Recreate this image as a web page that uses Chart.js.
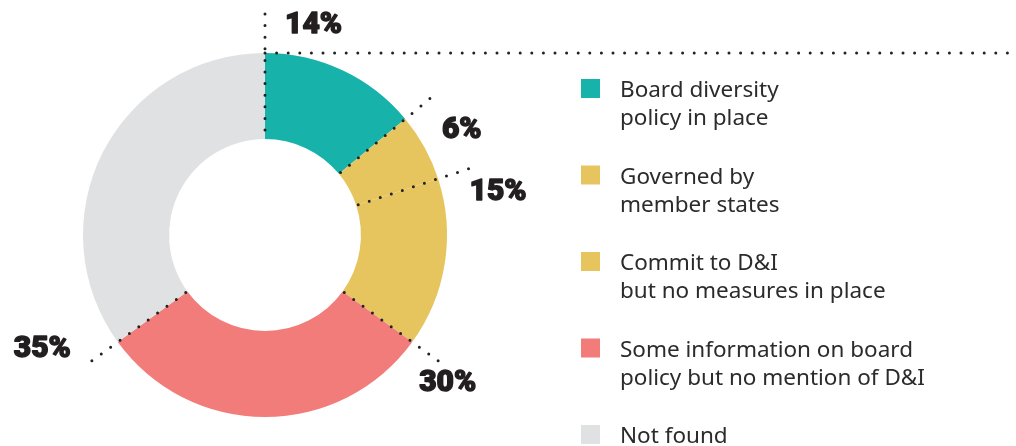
<!DOCTYPE html>
<html>
<head>
<meta charset="utf-8">
<script src="https://cdn.jsdelivr.net/npm/chart.js@4.4.0/dist/chart.umd.min.js"></script>
<style>
  html, body { margin: 0; padding: 0; background: #ffffff; }
  #wrap { width: 1016px; height: 446px; position: relative; }
</style>
</head>
<body>
<div id="wrap"><canvas id="c" width="1016" height="446"></canvas></div>
<script>
// ---- Data ----
const categories = [
  "Board diversity policy in place",
  "Governed by member states",
  "Commit to D&I but no measures in place",
  "Some information on board policy but no mention of D&I",
  "Not found"
];
const legendLines = [
  ["Board diversity", "policy in place"],
  ["Governed by", "member states"],
  ["Commit to D&I", "but no measures in place"],
  ["Some information on board", "policy but no mention of D&I"],
  ["Not found"]
];
const values = [14, 6, 15, 30, 35];
const valueLabels = ["14%", "6%", "15%", "30%", "35%"];
const colors = ["#17b2aa", "#e7c55e", "#e7c55e", "#f27c79", "#e0e1e3"];

// label placement relative to the end of each slice's start leader line
const labelStyle = [
  { dx: 20, dy: 11, align: "left" },
  { dx: 12, dy: 32, align: "left" },
  { dx: 1, dy: 24, align: "left" },
  { dx: -19, dy: 23, align: "left" },
  { dx: -21, dy: -11, align: "right" }
];

const DOT = "#222222";

function dotted(ctx) {
  ctx.strokeStyle = DOT;
  ctx.lineWidth = 3;
  ctx.lineCap = "round";
  ctx.setLineDash([0, 11.6]);
}

const overlay = {
  id: "overlay",
  afterDatasetsDraw(chart) {
    const ctx = chart.ctx;
    const arcs = chart.getDatasetMeta(0).data;
    ctx.save();
    arcs.forEach((arc, i) => {
      const a = arc.startAngle;
      const cx = arc.x, cy = arc.y;
      const ext = i === 0 ? arc.outerRadius + 39 : arc.outerRadius + 32;
      const x0 = cx + Math.cos(a) * arc.innerRadius;
      const y0 = cy + Math.sin(a) * arc.innerRadius;
      const x1 = cx + Math.cos(a) * ext;
      const y1 = cy + Math.sin(a) * ext;
      dotted(ctx);
      ctx.beginPath();
      ctx.moveTo(x1, y1);
      ctx.lineTo(x0, y0);
      ctx.stroke();
      const st = labelStyle[i];
      ctx.setLineDash([]);
      ctx.fillStyle = "#231f20";
      ctx.strokeStyle = "#231f20";
      ctx.lineWidth = 1.4;
      ctx.lineJoin = "round";
      ctx.font = "900 30px Roboto, 'Liberation Sans', sans-serif";
      ctx.textAlign = st.align;
      ctx.textBaseline = "middle";
      ctx.fillText(valueLabels[i], x1 + st.dx, y1 + st.dy);
      ctx.strokeText(valueLabels[i], x1 + st.dx, y1 + st.dy);
    });
    const first = arcs[0];
    const topY = first.y - first.outerRadius;
    dotted(ctx);
    ctx.beginPath();
    ctx.moveTo(first.x, topY);
    ctx.lineTo(chart.width - 6, topY);
    ctx.stroke();
    ctx.setLineDash([]);

    // legend
    const lx = 581, tx = 620;
    ctx.font = "22.5px 'Noto Sans', sans-serif";
    ctx.textAlign = "left";
    ctx.textBaseline = "alphabetic";
    legendLines.forEach((lines, i) => {
      const top = 79 + i * 86.5;
      ctx.fillStyle = colors[i];
      ctx.fillRect(lx, top, 19, 19);
      ctx.fillStyle = "#2b2b2b";
      lines.forEach((t, j) => {
        ctx.fillText(t, tx, top + 18 + j * 28);
      });
    });
    ctx.restore();
  }
};

new Chart(document.getElementById("c"), {
  type: "doughnut",
  data: {
    labels: categories,
    datasets: [{
      data: values,
      backgroundColor: colors,
      borderWidth: 0,
      hoverOffset: 0
    }]
  },
  options: {
    responsive: false,
    animation: false,
    radius: 182,
    cutout: "52.7%",
    rotation: 0,
    layout: { padding: { left: 0, right: 486, top: 24, bottom: 0 } },
    plugins: { legend: { display: false }, tooltip: { enabled: false } },
    events: []
  },
  plugins: [overlay]
});
</script>
</body>
</html>
